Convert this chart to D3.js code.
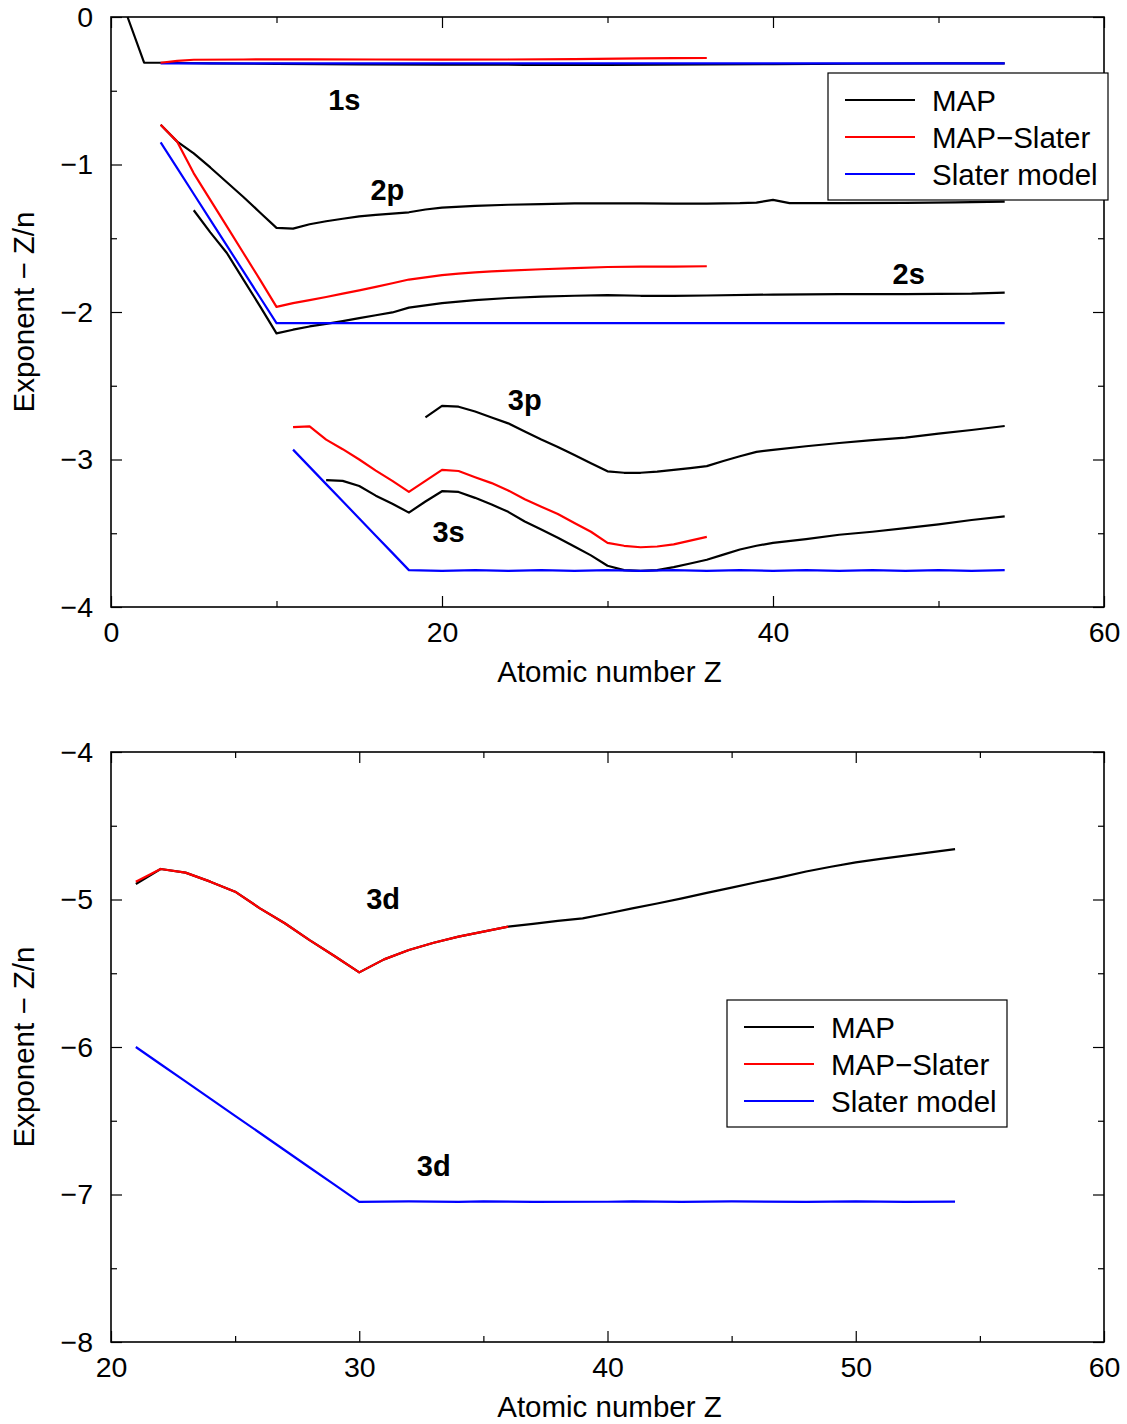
<!DOCTYPE html>
<html>
<head>
<meta charset="utf-8">
<script src="https://cdn.jsdelivr.net/npm/d3@7"></script>
<style>
  body { margin: 0; background: #fff; }
  text { font-family: "Liberation Sans", Arial, sans-serif; fill: #000; }
</style>
</head>
<body>
<div id="viz"></div>
<script>
// ---- data: [Z, exponent - Z/n] ----
const s1Map = [[1,0],[2,-0.31],[3,-0.31],[4,-0.312],[6,-0.315],[10,-0.318],[15,-0.321],[20,-0.323],[25,-0.324],[30,-0.324],[36,-0.322],[40,-0.319],[45,-0.317],[50,-0.315],[54,-0.314]];
const s1MapSlater = [[3,-0.31],[4,-0.298],[5,-0.29],[8,-0.288],[12,-0.287],[16,-0.288],[20,-0.289],[24,-0.288],[28,-0.285],[32,-0.281],[34,-0.279],[36,-0.278]];
const s1Slater = [[3,-0.314],[10,-0.314],[20,-0.314],[30,-0.314],[40,-0.314],[54,-0.314]];

const s2Upper = [[3,-0.73],[4,-0.845],[5,-0.925],[6,-1.02],[7,-1.12],[8,-1.22],[9,-1.325],[10,-1.43],[11,-1.435],[12,-1.405],[13,-1.385],[14,-1.368],[15,-1.352],[16,-1.342],[17,-1.333],[18,-1.324],[19,-1.305],[20,-1.292],[22,-1.28],[24,-1.273],[26,-1.268],[28,-1.264],[30,-1.263],[32,-1.264],[34,-1.265],[36,-1.265],[38,-1.262],[39,-1.258],[40,-1.24],[41,-1.262],[44,-1.262],[48,-1.26],[51,-1.257],[54,-1.252]];
const s2Lower = [[5,-1.31],[6,-1.46],[7,-1.60],[8,-1.78],[9,-1.96],[10,-2.145],[11,-2.12],[12,-2.098],[13,-2.08],[14,-2.062],[15,-2.042],[16,-2.022],[17,-2.003],[18,-1.97],[19,-1.955],[20,-1.94],[21,-1.93],[22,-1.92],[24,-1.905],[26,-1.896],[28,-1.89],[30,-1.885],[32,-1.89],[34,-1.89],[36,-1.888],[40,-1.882],[44,-1.879],[48,-1.879],[52,-1.876],[54,-1.868]];
const s2MapSlater = [[3,-0.73],[4,-0.845],[5,-1.06],[6,-1.24],[7,-1.42],[8,-1.60],[9,-1.78],[10,-1.965],[11,-1.94],[12,-1.92],[13,-1.898],[14,-1.875],[15,-1.853],[16,-1.83],[17,-1.805],[18,-1.78],[19,-1.765],[20,-1.75],[21,-1.74],[22,-1.732],[23,-1.725],[24,-1.72],[26,-1.71],[28,-1.702],[30,-1.695],[32,-1.692],[34,-1.692],[36,-1.69]];
const s2Slater = [[3,-0.85],[4,-1.025],[5,-1.2],[6,-1.375],[7,-1.55],[8,-1.725],[9,-1.9],[10,-2.075],[20,-2.075],[30,-2.075],[40,-2.075],[54,-2.075]];

const s3p = [[19,-2.715],[20,-2.637],[21,-2.642],[22,-2.675],[23,-2.715],[24,-2.755],[25,-2.81],[26,-2.865],[27,-2.915],[28,-2.97],[29,-3.025],[30,-3.08],[31,-3.09],[32,-3.09],[33,-3.082],[34,-3.07],[35,-3.058],[36,-3.045],[37,-3.01],[38,-2.978],[39,-2.948],[40,-2.935],[42,-2.91],[44,-2.888],[46,-2.868],[48,-2.852],[50,-2.825],[52,-2.8],[54,-2.773]];
const s3s = [[13,-3.14],[14,-3.145],[15,-3.18],[16,-3.245],[17,-3.30],[18,-3.36],[19,-3.285],[20,-3.215],[21,-3.22],[22,-3.26],[23,-3.305],[24,-3.355],[25,-3.42],[26,-3.475],[27,-3.53],[28,-3.59],[29,-3.65],[30,-3.72],[31,-3.75],[32,-3.755],[33,-3.75],[34,-3.73],[35,-3.705],[36,-3.68],[37,-3.645],[38,-3.61],[39,-3.585],[40,-3.565],[42,-3.54],[44,-3.51],[46,-3.49],[48,-3.465],[50,-3.44],[52,-3.41],[54,-3.385]];
const s3MapSlater = [[11,-2.78],[12,-2.775],[13,-2.865],[14,-2.93],[15,-3.0],[16,-3.075],[17,-3.145],[18,-3.22],[19,-3.145],[20,-3.07],[21,-3.078],[22,-3.12],[23,-3.16],[24,-3.21],[25,-3.27],[26,-3.32],[27,-3.37],[28,-3.43],[29,-3.49],[30,-3.565],[31,-3.585],[32,-3.595],[33,-3.59],[34,-3.575],[35,-3.55],[36,-3.525]];
const s3Slater = [[11,-2.933],[12,-3.05],[13,-3.167],[14,-3.283],[15,-3.4],[16,-3.517],[17,-3.633],[18,-3.75],[20,-3.755],[22,-3.75],[24,-3.755],[26,-3.75],[28,-3.755],[30,-3.75],[32,-3.755],[34,-3.75],[36,-3.755],[38,-3.75],[40,-3.755],[42,-3.75],[44,-3.755],[46,-3.75],[48,-3.755],[50,-3.75],[52,-3.755],[54,-3.75]];

const s3dMap = [[21,-4.895],[22,-4.793],[23,-4.818],[24,-4.879],[25,-4.947],[26,-5.06],[27,-5.161],[28,-5.275],[29,-5.383],[30,-5.494],[31,-5.406],[32,-5.342],[33,-5.293],[34,-5.252],[35,-5.218],[36,-5.184],[37,-5.165],[38,-5.145],[39,-5.128],[40,-5.095],[41,-5.06],[42,-5.027],[43,-4.992],[44,-4.955],[45,-4.92],[46,-4.883],[47,-4.848],[48,-4.81],[49,-4.778],[50,-4.748],[51,-4.725],[52,-4.703],[53,-4.68],[54,-4.658]];
const s3dMapSlater = [[21,-4.879],[22,-4.793],[23,-4.818],[24,-4.879],[25,-4.947],[26,-5.06],[27,-5.161],[28,-5.275],[29,-5.383],[30,-5.494],[31,-5.406],[32,-5.342],[33,-5.293],[34,-5.252],[35,-5.218],[36,-5.184]];
const s3dSlater = [[21,-6.0],[22,-6.117],[23,-6.233],[24,-6.35],[25,-6.467],[26,-6.583],[27,-6.7],[28,-6.817],[29,-6.933],[30,-7.05],[32,-7.047],[34,-7.05],[35,-7.046],[37,-7.05],[40,-7.049],[41,-7.046],[43,-7.05],[45,-7.047],[48,-7.05],[50,-7.046],[52,-7.05],[54,-7.048]];

const legendNames = ["MAP", "MAP\u2212Slater", "Slater model"];
const legendColors = ["#000", "#ff0000", "#0000ff"];

const topLabels = [["1s", 14.1, -0.563], ["2p", 16.7, -1.173], ["2s", 48.2, -1.742], ["3p", 25.0, -2.597], ["3s", 20.4, -3.49]];
const bottomLabels = [["3d", 30.96, -4.997], ["3d", 33.0, -6.807]];

// ---- layout ----
const W = 1127, H = 1424;
const svg = d3.select("#viz").append("svg").attr("width", W).attr("height", H);

function panel(cfg) {
  const x = d3.scaleLinear().domain(cfg.xDom).range([111, 1104]);
  const y = d3.scaleLinear().domain(cfg.yDom).range([cfg.bottom, cfg.top]);
  const g = svg.append("g");

  // minor ticks (all four sides)
  const minor = (axis, vals) => axis.tickValues(vals).tickSize(-6).tickFormat("");
  g.append("g").attr("transform", `translate(0,${cfg.bottom})`).call(minor(d3.axisBottom(x), cfg.xMinor));
  g.append("g").attr("transform", `translate(0,${cfg.top})`).call(minor(d3.axisTop(x), cfg.xMinor));
  g.append("g").attr("transform", `translate(111,0)`).call(minor(d3.axisLeft(y), cfg.yMinor));
  g.append("g").attr("transform", `translate(1104,0)`).call(minor(d3.axisRight(y), cfg.yMinor));

  // major ticks
  const fmt = d => d3.format("d")(d).replace("-", "\u2212");
  g.append("g").attr("class", "xax").attr("transform", `translate(0,${cfg.bottom})`)
    .call(d3.axisBottom(x).tickValues(cfg.xMajor).tickSize(-11).tickPadding(15).tickFormat(fmt));
  g.append("g").attr("transform", `translate(0,${cfg.top})`)
    .call(d3.axisTop(x).tickValues(cfg.xMajor).tickSize(-11).tickFormat(""));
  g.append("g").attr("class", "yax").attr("transform", `translate(111,0)`)
    .call(d3.axisLeft(y).tickValues(cfg.yMajor).tickSize(-11).tickPadding(18).tickFormat(fmt));
  g.append("g").attr("transform", `translate(1104,0)`)
    .call(d3.axisRight(y).tickValues(cfg.yMajor).tickSize(-11).tickFormat(""));

  g.selectAll(".domain").remove();
  g.selectAll(".tick line").attr("stroke", "#000").attr("stroke-width", 1.2);
  g.selectAll(".tick text").style("font-size", "28.5px").attr("fill", "#000");

  g.append("rect").attr("x", 111).attr("y", cfg.top)
    .attr("width", 1104 - 111).attr("height", cfg.bottom - cfg.top)
    .attr("fill", "none").attr("stroke", "#000").attr("stroke-width", 1.6);

  const line = d3.line().x(d => x(d[0])).y(d => y(d[1]));
  g.selectAll(".curve").data(cfg.series).join("path")
    .attr("class", "curve")
    .attr("d", d => line(d.data))
    .attr("fill", "none")
    .attr("stroke", d => d.color)
    .attr("stroke-width", 2.2)
    .attr("stroke-linejoin", "round");

  g.selectAll(".lab").data(cfg.labels).join("text")
    .attr("class", "lab")
    .attr("x", d => x(d[1])).attr("y", d => y(d[2]))
    .attr("text-anchor", "middle").attr("dominant-baseline", "central")
    .style("font-size", "29px").style("font-weight", "bold")
    .text(d => d[0]);

  g.append("text")
    .attr("x", (111 + 1104) / 2 + 2).attr("y", cfg.bottom + 75)
    .attr("text-anchor", "middle").style("font-size", "29.5px")
    .text("Atomic number Z");
  g.append("text")
    .attr("transform", `translate(34,${(cfg.top + cfg.bottom) / 2}) rotate(-90)`)
    .attr("text-anchor", "middle").style("font-size", "29.5px")
    .text("Exponent \u2212 Z/n");

  // legend
  const lg = g.append("g").attr("transform", `translate(${cfg.legend[0]},${cfg.legend[1]})`);
  lg.append("rect").attr("width", 280).attr("height", 127)
    .attr("fill", "#fff").attr("stroke", "#000").attr("stroke-width", 1.2);
  const row = lg.selectAll(".row").data(legendNames).join("g")
    .attr("transform", (d, i) => `translate(0,${27 + i * 37})`);
  row.append("line").attr("x1", 17).attr("x2", 87)
    .attr("stroke", (d, i) => legendColors[i]).attr("stroke-width", 2.2);
  row.append("text").attr("x", 104).attr("dominant-baseline", "central")
    .style("font-size", "29.5px").text(d => d);
}

panel({
  xDom: [0, 60], yDom: [-4, 0], top: 17, bottom: 607,
  xMajor: [0, 20, 40, 60], xMinor: [10, 30, 50],
  yMajor: [0, -1, -2, -3, -4], yMinor: [-0.5, -1.5, -2.5, -3.5],
  legend: [828, 73],
  labels: topLabels,
  series: [
    {data: s1Map, color: "#000"}, {data: s2Upper, color: "#000"}, {data: s2Lower, color: "#000"},
    {data: s3p, color: "#000"}, {data: s3s, color: "#000"},
    {data: s1Slater, color: "#0000ff"}, {data: s2Slater, color: "#0000ff"}, {data: s3Slater, color: "#0000ff"},
    {data: s1MapSlater, color: "#ff0000"}, {data: s2MapSlater, color: "#ff0000"}, {data: s3MapSlater, color: "#ff0000"}
  ]
});

panel({
  xDom: [20, 60], yDom: [-8, -4], top: 752, bottom: 1342,
  xMajor: [20, 30, 40, 50, 60], xMinor: [25, 35, 45, 55],
  yMajor: [-4, -5, -6, -7, -8], yMinor: [-4.5, -5.5, -6.5, -7.5],
  legend: [727, 1000],
  labels: bottomLabels,
  series: [
    {data: s3dMap, color: "#000"},
    {data: s3dMapSlater, color: "#ff0000"},
    {data: s3dSlater, color: "#0000ff"}
  ]
});
</script>
</body>
</html>
